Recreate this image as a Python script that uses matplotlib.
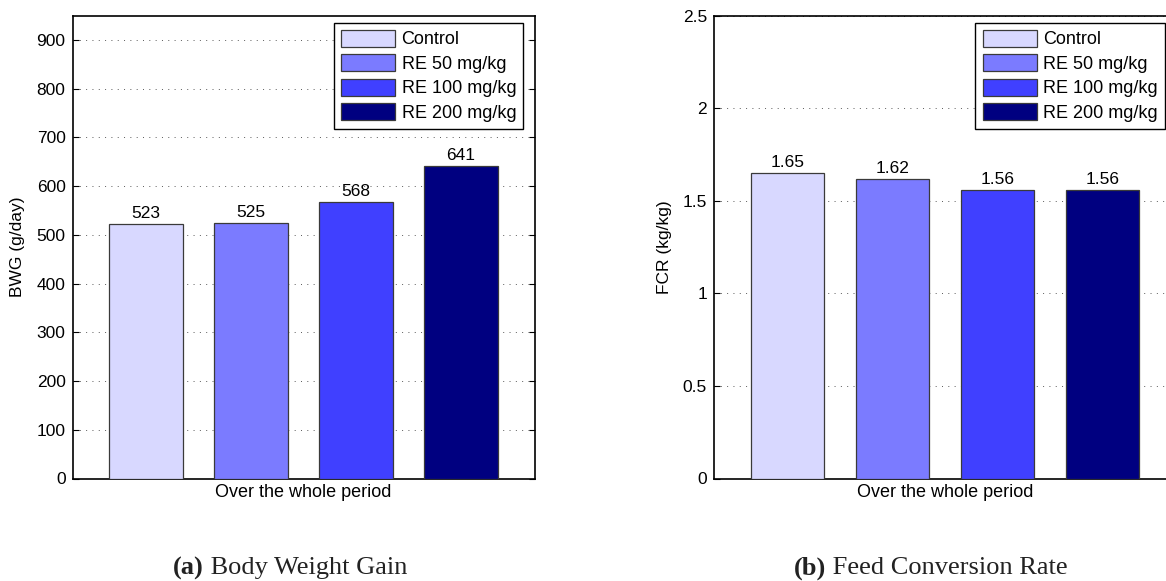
import matplotlib
matplotlib.use('Agg')
import matplotlib.pyplot as plt
from matplotlib.ticker import FormatStrFormatter

# Dados
groups = ['Control', 'RE 50 mg/kg', 'RE 100 mg/kg', 'RE 200 mg/kg']
bwg = [523, 525, 568, 641]
fcr = [1.65, 1.62, 1.56, 1.56]
bwg_ticks = [0, 100, 200, 300, 400, 500, 600, 700, 800, 900]
fcr_ticks = [0, 0.5, 1, 1.5, 2, 2.5]

colors = ['#d8d8ff', '#7b7bff', '#4040ff', '#000080']

plt.rcParams['font.family'] = ['Liberation Sans', 'DejaVu Sans']

W, H = 1166, 581
fig = plt.figure(figsize=(W / 100, H / 100), dpi=100)

ax_w = 462 / W
ax_b = (H - 478.5) / H
ax_h = (478.5 - 15.7) / H


def draw_panel(ax, values, ticks, ylim, ylabel, fmt, legend_x):
    x = list(range(len(values)))
    for i in x:
        ax.bar(i, values[i], width=0.7, color=colors[i], edgecolor='#3a3a3a',
               linewidth=0.9, label=groups[i], zorder=3)
        ax.annotate(fmt.format(values[i]), (i, values[i]), xytext=(0, 2),
                    textcoords='offset points', ha='center', va='bottom',
                    fontsize=12.5, zorder=4)
    ax.set_xlim(-0.7, 3.7)
    ax.set_ylim(*ylim)
    ax.set_yticks(ticks)
    ax.yaxis.set_major_formatter(FormatStrFormatter('%g'))
    ax.set_xticks([])
    ax.tick_params(axis='y', direction='in', right=True, length=4, width=0.8,
                   labelsize=12.5, pad=5)
    ax.grid(axis='y', color='0.35', linestyle=(0, (1, 5.5)), linewidth=0.7, zorder=0)
    for s in ax.spines.values():
        s.set_linewidth(1.2)
    ax.set_ylabel(ylabel, fontsize=12.5, labelpad=8)
    ax.set_xlabel('Over the whole period', fontsize=13, labelpad=4)
    leg = ax.legend(loc='upper left', bbox_to_anchor=(legend_x / W, 1 - 22.7 / H),
                    bbox_transform=fig.transFigure, borderaxespad=0, fontsize=13,
                    frameon=True, fancybox=False, framealpha=1, edgecolor='black',
                    handlelength=3.0, handleheight=1.05, handletextpad=0.35,
                    labelspacing=0.33, borderpad=0.4)
    leg.get_frame().set_linewidth(1.0)


ax1 = fig.add_axes([72.5 / W, ax_b, ax_w, ax_h])
draw_panel(ax1, bwg, bwg_ticks, (0, 950), 'BWG (g/day)', '{:d}', 333.8)

ax2 = fig.add_axes([714 / W, ax_b, ax_w, ax_h])
draw_panel(ax2, fcr, fcr_ticks, (0, 2.5), 'FCR (kg/kg)', '{:.2f}', 975.3)

# Legendas das figuras: parte em negrito + resto, lado a lado
cap_y = 1 - 568 / H
fig.canvas.draw()
renderer = fig.canvas.get_renderer()


def caption(cx, tag, rest):
    t1 = fig.text(0, cap_y, tag, ha='left', va='center', fontsize=19,
                  family='Liberation Serif', weight='bold', color='#222222')
    t2 = fig.text(0, cap_y, ' ' + rest, ha='left', va='center', fontsize=19,
                  family='Liberation Serif', color='#222222')
    w1 = t1.get_window_extent(renderer).width
    w2 = t2.get_window_extent(renderer).width
    x0 = cx - (w1 + w2) / 2
    t1.set_x(x0 / W)
    t2.set_x((x0 + w1) / W)


caption(290, '(a)', 'Body Weight Gain')
caption(931, '(b)', 'Feed Conversion Rate')

fig.savefig('out.png', dpi=100)
